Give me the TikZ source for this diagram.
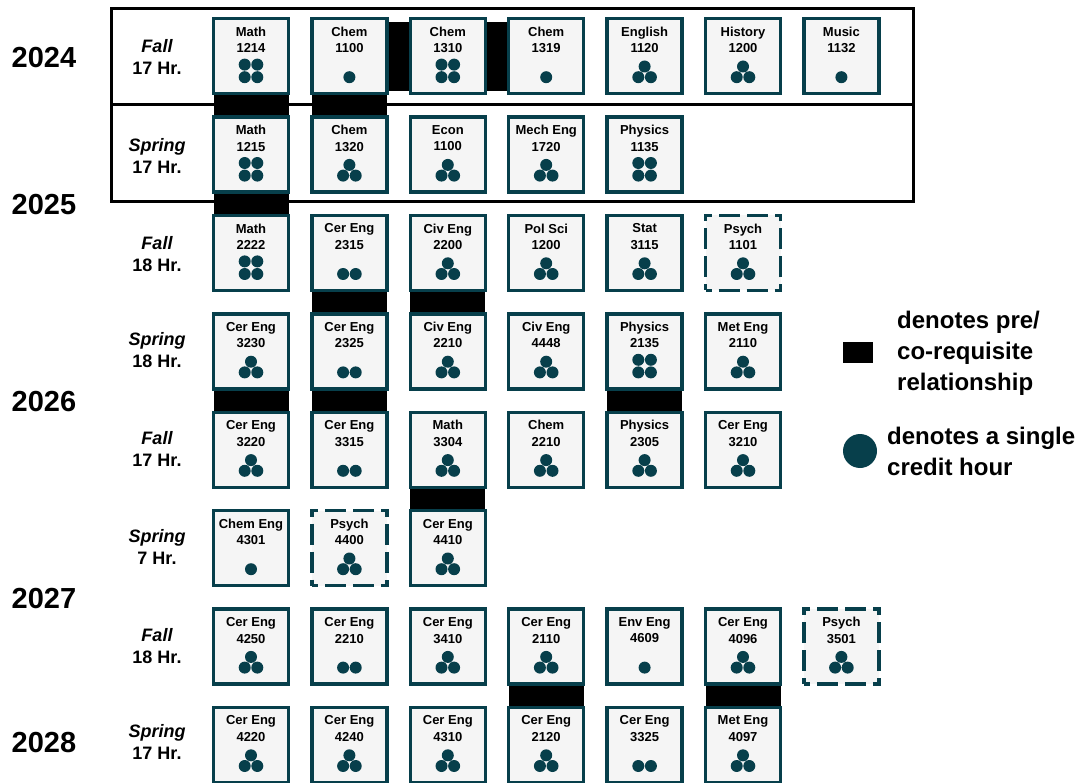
\documentclass[tikz,border=0pt]{standalone}
\usepackage{fontspec}
\setmainfont{Liberation Sans}
\usetikzlibrary{backgrounds}
\definecolor{tealc}{HTML}{073F4B}
\definecolor{boxfill}{HTML}{F5F5F5}
\tikzset{
  box/.style={draw=tealc, line width=3.3pt, fill=boxfill, minimum width=75pt, minimum height=75pt, inner sep=0pt, outer sep=0pt},
  dbox/.style={box, dash pattern=on 12pt off 7pt on 21pt off 7pt on 21pt off 7pt, dash phase=6pt},
  ctext/.style={font=\fontsize{13}{16.5}\selectfont\bfseries, align=center, inner sep=0pt},
  dotc/.style={fill=tealc},
  season/.style={font=\fontsize{18}{22}\selectfont\bfseries, align=center, inner sep=0pt},
  year/.style={font=\fontsize{29}{32}\selectfont\bfseries, inner sep=0pt},
  legtext/.style={font=\fontsize{24}{31}\selectfont\bfseries, align=left, inner sep=0pt, anchor=west},
  reqbar/.style={fill=black},
  frame/.style={draw=black, line width=3pt}
}
\newcommand\crsbox[7]{%
  \node[#7] (#1) at (#2,#3) {};
  \node[ctext] (#1-t) at ([yshift=16.3pt]#1.center) {#4\\#5};
  \ifcase#6\or
    \fill[dotc] ([yshift=-21pt]#1.center) circle (6pt);
  \or
    \fill[dotc] ([xshift=-6.3pt,yshift=-21pt]#1.center) circle (6pt)
                ([xshift=6.3pt,yshift=-21pt]#1.center) circle (6pt);
  \or
    \fill[dotc] ([yshift=-10.3pt]#1.center) circle (6pt)
                ([xshift=-6.3pt,yshift=-21pt]#1.center) circle (6pt)
                ([xshift=6.3pt,yshift=-21pt]#1.center) circle (6pt);
  \or
    \fill[dotc] ([xshift=-6.3pt,yshift=-8.4pt]#1.center) circle (6pt)
                ([xshift=6.3pt,yshift=-8.4pt]#1.center) circle (6pt)
                ([xshift=-6.3pt,yshift=-21pt]#1.center) circle (6pt)
                ([xshift=6.3pt,yshift=-21pt]#1.center) circle (6pt);
  \fi}
\newcommand\reqv[2]{\fill[reqbar] (#1.south west) rectangle (#2.north east);}
\newcommand\reqh[2]{\fill[reqbar] ([yshift=-3pt]#1.north east) rectangle ([yshift=3pt]#2.south west);}
\begin{document}
\begin{tikzpicture}[x=1pt,y=-1pt]
\useasboundingbox (0,0) rectangle (1086,783);
% frames
\draw[frame] (111,9) rectangle (913,105);
\draw[frame] (111,105) rectangle (913,201.5);
% years
\node[year] (y2024) at (44,58) {2024};
\node[year] (y2025) at (44,205) {2025};
\node[year] (y2026) at (44,402) {2026};
\node[year] (y2027) at (44,599) {2027};
\node[year] (y2028) at (44,743) {2028};
% seasons
\node[season] (s1) at (157,57.2) {\itshape Fall\\17 Hr.};
\node[season] (s2) at (157,155.6) {\itshape Spring\\17 Hr.};
\node[season] (s3) at (157,254) {\itshape Fall\\18 Hr.};
\node[season] (s4) at (157,350.4) {\itshape Spring\\18 Hr.};
\node[season] (s5) at (157,448.8) {\itshape Fall\\17 Hr.};
\node[season] (s6) at (157,547.2) {\itshape Spring\\7 Hr.};
\node[season] (s7) at (157,645.6) {\itshape Fall\\18 Hr.};
\node[season] (s8) at (157,742) {\itshape Spring\\17 Hr.};
% row 1
\crsbox{a1}{251}{56.2}{Math}{1214}{4}{box}
\crsbox{a2}{349.4}{56.2}{Chem}{1100}{1}{box}
\crsbox{a3}{447.8}{56.2}{Chem}{1310}{4}{box}
\crsbox{a4}{546.2}{56.2}{Chem}{1319}{1}{box}
\crsbox{a5}{644.6}{56.2}{English}{1120}{3}{box}
\crsbox{a6}{743}{56.2}{History}{1200}{3}{box}
\crsbox{a7}{841.4}{56.2}{Music}{1132}{1}{box}
% row 2
\crsbox{b1}{251}{154.6}{Math}{1215}{4}{box}
\crsbox{b2}{349.4}{154.6}{Chem}{1320}{3}{box}
\crsbox{b3}{447.8}{154.6}{Econ}{1100}{3}{box}
\crsbox{b4}{546.2}{154.6}{Mech Eng}{1720}{3}{box}
\crsbox{b5}{644.6}{154.6}{Physics}{1135}{4}{box}
% row 3
\crsbox{c1}{251}{253}{Math}{2222}{4}{box}
\crsbox{c2}{349.4}{253}{Cer Eng}{2315}{2}{box}
\crsbox{c3}{447.8}{253}{Civ Eng}{2200}{3}{box}
\crsbox{c4}{546.2}{253}{Pol Sci}{1200}{3}{box}
\crsbox{c5}{644.6}{253}{Stat}{3115}{3}{box}
\crsbox{c6}{743}{253}{Psych}{1101}{3}{dbox}
% row 4
\crsbox{d1}{251}{351.4}{Cer Eng}{3230}{3}{box}
\crsbox{d2}{349.4}{351.4}{Cer Eng}{2325}{2}{box}
\crsbox{d3}{447.8}{351.4}{Civ Eng}{2210}{3}{box}
\crsbox{d4}{546.2}{351.4}{Civ Eng}{4448}{3}{box}
\crsbox{d5}{644.6}{351.4}{Physics}{2135}{4}{box}
\crsbox{d6}{743}{351.4}{Met Eng}{2110}{3}{box}
% row 5
\crsbox{e1}{251}{449.8}{Cer Eng}{3220}{3}{box}
\crsbox{e2}{349.4}{449.8}{Cer Eng}{3315}{2}{box}
\crsbox{e3}{447.8}{449.8}{Math}{3304}{3}{box}
\crsbox{e4}{546.2}{449.8}{Chem}{2210}{3}{box}
\crsbox{e5}{644.6}{449.8}{Physics}{2305}{3}{box}
\crsbox{e6}{743}{449.8}{Cer Eng}{3210}{3}{box}
% row 6
\crsbox{f1}{251}{548.2}{Chem Eng}{4301}{1}{box}
\crsbox{f2}{349.4}{548.2}{Psych}{4400}{3}{dbox}
\crsbox{f3}{447.8}{548.2}{Cer Eng}{4410}{3}{box}
% row 7
\crsbox{g1}{251}{646.6}{Cer Eng}{4250}{3}{box}
\crsbox{g2}{349.4}{646.6}{Cer Eng}{2210}{2}{box}
\crsbox{g3}{447.8}{646.6}{Cer Eng}{3410}{3}{box}
\crsbox{g4}{546.2}{646.6}{Cer Eng}{2110}{3}{box}
\crsbox{g5}{644.6}{646.6}{Env Eng}{4609}{1}{box}
\crsbox{g6}{743}{646.6}{Cer Eng}{4096}{3}{box}
\crsbox{g7}{841.4}{646.6}{Psych}{3501}{3}{dbox}
% row 8
\crsbox{h1}{251}{745}{Cer Eng}{4220}{3}{box}
\crsbox{h2}{349.4}{745}{Cer Eng}{4240}{3}{box}
\crsbox{h3}{447.8}{745}{Cer Eng}{4310}{3}{box}
\crsbox{h4}{546.2}{745}{Cer Eng}{2120}{3}{box}
\crsbox{h5}{644.6}{745}{Cer Eng}{3325}{2}{box}
\crsbox{h6}{743}{745}{Met Eng}{4097}{3}{box}
% requisite bars
\begin{scope}[on background layer]
\reqv{a1}{b1}
\reqv{a2}{b2}
\reqv{b1}{c1}
\reqv{c2}{d2}
\reqv{c3}{d3}
\reqv{d1}{e1}
\reqv{d2}{e2}
\reqv{d5}{e5}
\reqv{e3}{f3}
\reqv{g4}{h4}
\reqv{g6}{h6}
\reqh{a2}{a3}
\reqh{a3}{a4}
\end{scope}
% legend
\node[fill=black, minimum width=30pt, minimum height=21pt, inner sep=0pt] (legbar) at (858,352.5) {};
\node[legtext] (legbartext) at (897,353) {denotes pre/\\co-requisite\\relationship};
\node[circle, fill=tealc, minimum size=34pt, inner sep=0pt] (legdot) at (860,451) {};
\node[legtext] (legdottext) at (887,451) {denotes a single\\credit hour};
\end{tikzpicture}
\end{document}
